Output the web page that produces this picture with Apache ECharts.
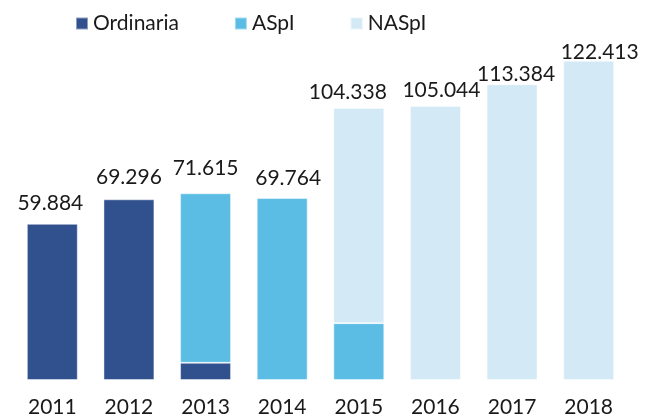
<!DOCTYPE html>
<html>
<head>
<meta charset="utf-8">
<script src="https://cdn.jsdelivr.net/npm/echarts@6/dist/echarts.min.js"></script>
<style>html,body{margin:0;padding:0;background:#fff}#c{width:645px;height:418px}</style>
</head>
<body>
<div id="c"></div>
<script>
var categories = ['2011', '2012', '2013', '2014', '2015', '2016', '2017', '2018'];
var ordinaria = [59884, 69296, 6600, '-', '-', '-', '-', '-'];
var aspi = ['-', '-', 65015, 69764, 21800, '-', '-', '-'];
var naspi = ['-', '-', '-', '-', 82538, 105044, 113384, 122413];
var totals = [59884, 69296, 71615, 69764, 104338, 105044, 113384, 122413];
var legendNames = ['Ordinaria', 'ASpI', 'NASpI'];

// label nudges (layout only), in pixels
var labelNudge = [[-2, -4], [0, -6], [0, -9], [6, -3], [-11, 1], [6, 1], [4, 6], [11, 8]];

function fmt(v) {
  return String(v).replace(/\B(?=(\d{3})+(?!\d))/g, '.');
}

var FONT = 'Lato, "Open Sans", sans-serif';
var chart = echarts.init(document.getElementById('c'), null, {renderer: 'canvas'});
var border = {borderColor: 'rgba(255,255,255,0.45)', borderWidth: 1};
chart.setOption({
  animation: false,
  textStyle: {fontFamily: FONT},
  legend: {
    data: legendNames,
    left: 70, top: 8,
    itemWidth: 12, itemHeight: 12, itemGap: 55,
    icon: 'rect',
    textStyle: {fontFamily: FONT, fontSize: 21, color: '#1a1a1a'}
  },
  grid: {left: 14, right: 18, top: 41, bottom: 38, containLabel: false},
  xAxis: {
    type: 'category', data: categories,
    axisLine: {show: false}, axisTick: {show: false},
    axisLabel: {fontFamily: FONT, fontSize: 21, color: '#1a1a1a', margin: 17}
  },
  yAxis: {type: 'value', min: 0, max: 130000, show: false, splitLine: {show: false}},
  series: [
    {name: legendNames[0], type: 'bar', stack: 's', barWidth: '66.5%', data: ordinaria,
     itemStyle: Object.assign({color: '#30508E'}, border)},
    {name: legendNames[1], type: 'bar', stack: 's', data: aspi,
     itemStyle: Object.assign({color: '#5BBDE4'}, border)},
    {name: legendNames[2], type: 'bar', stack: 's', data: naspi,
     itemStyle: Object.assign({color: '#D3E9F5'}, border)},
    {name: 'Totale', type: 'bar', stack: 's',
     data: totals.map(function (t, i) {
       return {value: 0, label: {offset: labelNudge[i]}};
     }),
     itemStyle: {color: 'transparent'},
     label: {show: true, position: 'top', distance: 6, fontFamily: FONT, fontSize: 21, color: '#1a1a1a',
       formatter: function (p) { return fmt(totals[p.dataIndex]); }}}
  ]
});
</script>
</body>
</html>
